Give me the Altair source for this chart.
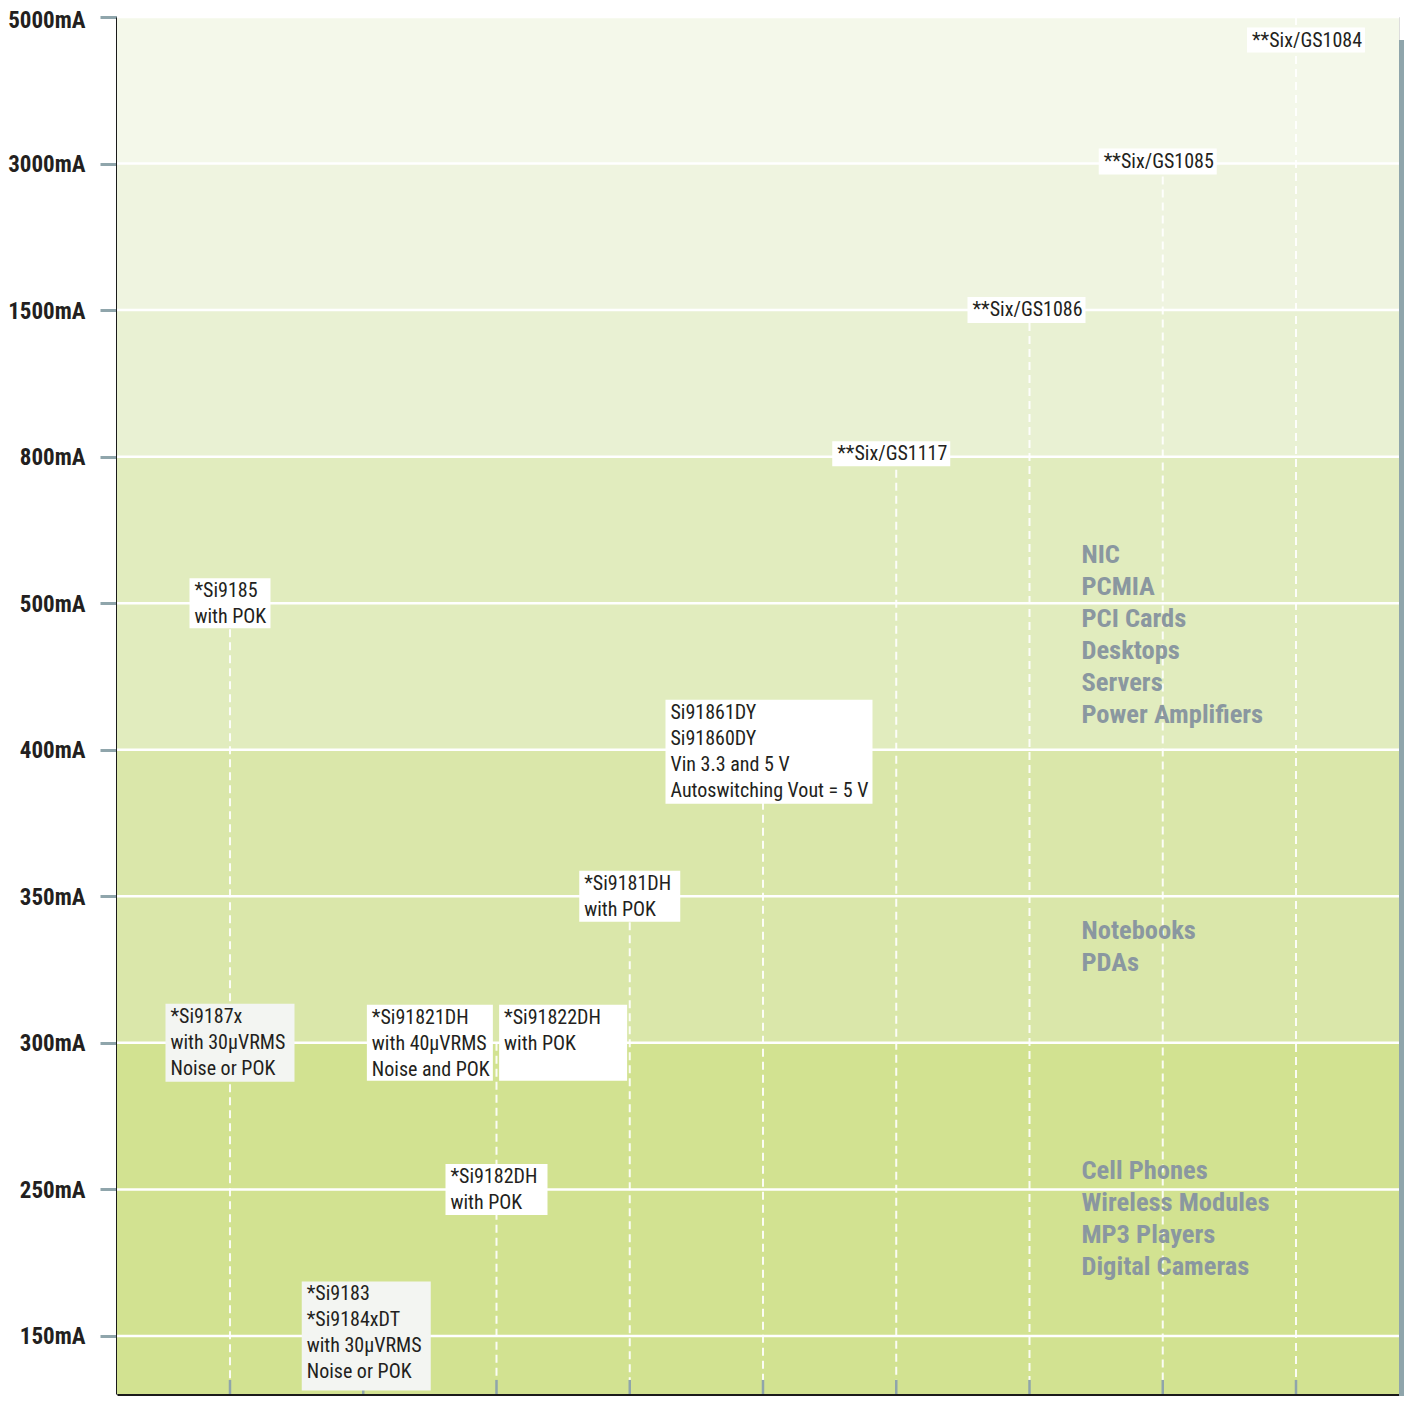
import altair as alt

FONT = "Liberation Sans Narrow, Roboto Condensed, DejaVu Sans Condensed, Arial Narrow, sans-serif"

# ---------------- data ----------------
levels = ["150mA", "250mA", "300mA", "350mA", "400mA", "500mA", "800mA", "1500mA", "3000mA", "5000mA"]

band_bottoms = ["", "300mA", "400mA", "800mA", "1500mA", "3000mA"]
band_tops = ["300mA", "400mA", "800mA", "1500mA", "3000mA", "5000mA"]

product_lines = [
    ["*Si9187x", "with 30µVRMS", "Noise or POK"],
    ["*Si9185", "with POK"],
    ["*Si9183", "*Si9184xDT", "with 30µVRMS", "Noise or POK"],
    ["*Si9182DH", "with POK"],
    ["*Si91821DH", "with 40µVRMS", "Noise and POK"],
    ["*Si91822DH", "with POK"],
    ["*Si9181DH", "with POK"],
    ["Si91861DY", "Si91860DY", "Vin 3.3 and 5 V", "Autoswitching Vout = 5 V"],
    ["**Six/GS1117"],
    ["**Six/GS1086"],
    ["**Six/GS1085"],
    ["**Six/GS1084"],
]
product_columns = [1, 1, 2, 3, 2.5, 3.5, 4, 5, 6, 7, 8, 9]
product_levels = ["300mA", "500mA", "150mA", "250mA", "300mA", "300mA", "350mA",
                  "400mA", "800mA", "1500mA", "3000mA", "5000mA"]

columns = [1, 2, 3, 4, 5, 6, 7, 8, 9]
column_tops = ["500mA", "150mA", "300mA", "350mA", "400mA", "800mA", "1500mA", "3000mA", "5000mA"]

category_lines = [
    ["NIC", "PCMIA", "PCI Cards", "Desktops", "Servers", "Power Amplifiers"],
    ["Notebooks", "PDAs"],
    ["Cell Phones", "Wireless Modules", "MP3 Players", "Digital Cameras"],
]
category_x = [7.39, 7.39, 7.39]
category_y = [5.33, 2.76, 1.125]

# ---------------- styles ----------------
band_colors = ["#D2E291", "#DAE7AA", "#E1ECBE", "#E9F1D3", "#EFF4E0", "#F4F8EA"]
box_w = [129, 81, 129, 102, 126, 128, 101, 207, 118, 118, 118, 118]
box_h = [78, 50, 109, 51, 76, 76, 51, 104, 25, 26, 26, 25]
box_fill = ["#F3F5F2", "#FFFFFF", "#F3F5F2", "#FFFFFF", "#FFFFFF", "#FFFFFF", "#FFFFFF",
            "#FFFFFF", "#FFFFFF", "#FFFFFF", "#FFFFFF", "#FFFFFF"]
box_off = [(0, 0), (0, 0), (3, 0), (0, 0), (0, 0), (0, 0), (0, 0), (6, 2),
           (-5, -3), (-3, 0), (-5, -2), (10, 23)]

Y_MIN, Y_MAX = -0.396, 9
X_MIN, X_MAX = 0.152, 9.773
W, H = 1282, 1377
TICK_BLUE = "#8FA5AB"

lvl = {l: i for i, l in enumerate(levels)}

label_expr = "[" + ",".join(f"'{l}'" for l in levels) + "][datum.value]"


def X(field="x"):
    return alt.X(f"{field}:Q", scale=alt.Scale(domain=[X_MIN, X_MAX], nice=False, zero=False),
                 axis=alt.Axis(labels=False, ticks=False, grid=False, title=None,
                               domainColor="#1A1A1A", domainWidth=3))


def Y(field="y"):
    return alt.Y(f"{field}:Q", scale=alt.Scale(domain=[Y_MIN, Y_MAX], nice=False, zero=False),
                 axis=alt.Axis(values=list(range(len(levels))), labelExpr=label_expr, title=None,
                               grid=False, tickSize=17, tickColor=TICK_BLUE, tickWidth=3,
                               labelPadding=15, labelFont=FONT, labelFontSize=23,
                               labelFontWeight="bold", labelColor="#231F20",
                               labelOffset={"condition": {"test": f"datum.value == {len(levels) - 1}", "value": 3},
                                            "value": 1},
                               domainColor="#1A1A1A", domainWidth=3))


# bands
band_data = alt.Data(values=[
    {"y": (lvl[b] if b else Y_MIN), "y2": lvl[t], "c": c}
    for b, t, c in zip(band_bottoms, band_tops, band_colors)
])
bands = alt.Chart(band_data).mark_rect().encode(
    y=Y("y"), y2=alt.Y2("y2:Q"), color=alt.Color("c:N", scale=None)
)

# horizontal white gridlines
grid_data = alt.Data(values=[{"y": i} for i in range(len(levels))])
grid = alt.Chart(grid_data).mark_rule(color="white", strokeWidth=2.5).encode(y=Y("y"))

# vertical dashed column lines
col_data = alt.Data(values=[{"x": c, "y": lvl[t]} for c, t in zip(columns, column_tops)])
dashes = alt.Chart(col_data).mark_rule(color="white", strokeWidth=2, strokeDash=[8, 5], opacity=0.9).encode(
    x=X("x"), y=Y("y"), y2=alt.datum(-0.3)
)
ticks = alt.Chart(col_data).mark_rule(color=TICK_BLUE, strokeWidth=2.5).encode(
    x=X("x"), y=alt.datum(-0.3), y2=alt.datum(Y_MIN)
)

# side bar (decoration)
side = alt.Chart(alt.Data(values=[{"k": 1}])).mark_rect(color=TICK_BLUE, clip=False).encode(
    x=alt.value(W), x2=alt.value(W + 5), y=alt.value(23), y2=alt.value(H + 2)
)

layers = [bands, grid, dashes, ticks]

for i, lines in enumerate(product_lines):
    d = alt.Data(values=[{"x": product_columns[i], "y": lvl[product_levels[i]], "t": lines}])
    w, h = box_w[i], box_h[i]
    ox, oy = box_off[i]
    box = alt.Chart(d).mark_rect(width=w, height=h, color=box_fill[i], xOffset=ox, yOffset=oy).encode(
        x=X("x"), y=Y("y")
    )
    txt = alt.Chart(d).mark_text(
        align="left", baseline="top", dx=-w / 2 + 5 + ox, dy=-h / 2 + 3 + oy,
        lineHeight=26, font=FONT, fontSize=20, color="#231F20"
    ).encode(x=X("x"), y=Y("y"), text=alt.Text("t:N"))
    layers += [box, txt]

cat_data = alt.Data(values=[{"x": x, "y": y, "t": t} for x, y, t in zip(category_x, category_y, category_lines)])
cats = alt.Chart(cat_data).mark_text(
    align="left", baseline="middle", lineHeight=32, font=FONT, fontSize=26.5,
    fontWeight="bold", color="#8A97A0"
).encode(x=X("x"), y=Y("y"), text=alt.Text("t:N"))
layers += [cats, side]

chart = alt.layer(*layers).properties(
    width=W, height=H,
    autosize=alt.AutoSizeParams(type="none"),
    padding={"left": 109, "top": 9, "right": 5, "bottom": 2},
).configure_view(stroke=None).configure(background="white")

chart.save("out.html", embed_options={"renderer": "svg", "actions": False})
